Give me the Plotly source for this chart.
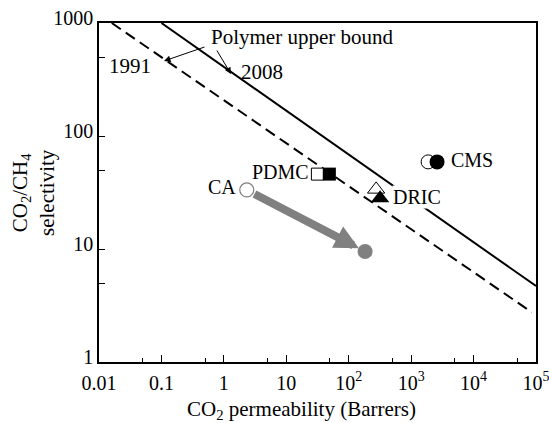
import numpy as np
import plotly.graph_objects as go

# ---- data ----
ub1991_x = [0.016, 86000]
ub1991_y = [1000, 2.75]
ub2008_x = [0.1, 100000]
ub2008_y = [1000, 4.7]

ca_x = [2.33]
ca_y = [33.3]
ca_end_x = [183]
ca_end_y = [9.5]

pdmc_open_x = [31.5]
pdmc_open_y = [46]
pdmc_fill_x = [49]
pdmc_fill_y = [46]

dric_open_x = [275]
dric_open_y = [33.7]
dric_fill_x = [318]
dric_fill_y = [28.1]

cms_open_x = [1870]
cms_open_y = [59]
cms_fill_x = [2600]
cms_fill_y = [59]

x_tickvals = [0.01, 0.1, 1, 10, 100, 1000, 10000, 100000]
x_ticktext = ["0.01", "0.1", "1", "10", "10<sup>2</sup>", "10<sup>3</sup>",
              "10<sup>4</sup>", "10<sup>5</sup>"]
x_minor = [0.05, 0.5, 5, 50, 500, 5000, 50000]
y_tickvals = [1, 10, 100, 1000]
y_ticktext = ["1", "10", "100", "1000"]
y_minor = [5, 50, 500]

FONT = "Liberation Serif"
GRAY = "#808080"

fig = go.Figure()

fig.add_trace(go.Scatter(x=ub1991_x, y=ub1991_y, mode="lines",
                         line=dict(color="black", width=2, dash="11px,6px")))
fig.add_trace(go.Scatter(x=ub2008_x, y=ub2008_y, mode="lines",
                         line=dict(color="black", width=2)))

fig.add_trace(go.Scatter(x=ca_x, y=ca_y, mode="markers",
                         marker=dict(symbol="circle", size=14, color="white",
                                     line=dict(color=GRAY, width=1.2))))
fig.add_trace(go.Scatter(x=ca_end_x, y=ca_end_y, mode="markers",
                         marker=dict(symbol="circle", size=15, color=GRAY,
                                     line=dict(width=0))))
fig.add_trace(go.Scatter(x=pdmc_open_x, y=pdmc_open_y, mode="markers",
                         marker=dict(symbol="square", size=12, color="white",
                                     line=dict(color="black", width=1))))
fig.add_trace(go.Scatter(x=pdmc_fill_x, y=pdmc_fill_y, mode="markers",
                         marker=dict(symbol="square", size=13, color="black",
                                     line=dict(width=0))))
fig.add_trace(go.Scatter(x=dric_open_x, y=dric_open_y, mode="markers",
                         marker=dict(symbol="triangle-up", size=15, color="white",
                                     line=dict(color="black", width=1))))
fig.add_trace(go.Scatter(x=dric_fill_x, y=dric_fill_y, mode="markers",
                         marker=dict(symbol="triangle-up", size=16, color="black",
                                     line=dict(width=0))))
fig.add_trace(go.Scatter(x=cms_open_x, y=cms_open_y, mode="markers",
                         marker=dict(symbol="circle", size=14, color="white",
                                     line=dict(color="black", width=1))))
fig.add_trace(go.Scatter(x=cms_fill_x, y=cms_fill_y, mode="markers",
                         marker=dict(symbol="circle", size=15, color="black",
                                     line=dict(width=0))))

ann = []
ann.append(dict(x=np.log10(ca_end_x[0]), y=np.log10(ca_end_y[0]),
                ax=np.log10(ca_x[0]), ay=np.log10(ca_y[0]),
                xref="x", yref="y", axref="x", ayref="y",
                showarrow=True, arrowhead=2, arrowwidth=8, arrowsize=0.6,
                arrowcolor=GRAY, standoff=7, startstandoff=7, text=""))

tf = dict(family=FONT, size=20, color="black")
tb = dict(family=FONT, size=21, color="black")
ann.append(dict(x=np.log10(ca_x[0]), y=np.log10(ca_y[0]), xref="x", yref="y",
                text="CA", showarrow=False, xanchor="right", xshift=-9, yshift=3, font=tf))
ann.append(dict(x=np.log10(pdmc_open_x[0]), y=np.log10(pdmc_open_y[0]), xref="x", yref="y",
                text="PDMC", showarrow=False, xanchor="right", xshift=-6, yshift=2, font=tf))
ann.append(dict(x=np.log10(dric_fill_x[0]), y=np.log10(dric_fill_y[0]), xref="x", yref="y",
                text="DRIC", showarrow=False, xanchor="left", xshift=12, yshift=1, font=tf,
                bgcolor="white", borderpad=0))
ann.append(dict(x=np.log10(cms_fill_x[0]), y=np.log10(cms_fill_y[0]), xref="x", yref="y",
                text="CMS", showarrow=False, xanchor="left", xshift=12, yshift=2, font=tf))

W, H = 549, 423
L, R, T, B = 99, 13, 23, 61
pw, ph = W - L - R, H - T - B
def px(xp):
    return (xp - L) / pw
def py(yp):
    return 1 - (yp - T) / ph

ann.append(dict(x=px(302), y=py(37), xref="paper", yref="paper", text="Polymer upper bound",
                showarrow=False, font=tb, xanchor="center", yanchor="middle"))
ann.append(dict(x=px(130), y=py(66), xref="paper", yref="paper", text="1991",
                showarrow=False, font=tb, xanchor="center", yanchor="middle"))
ann.append(dict(x=px(262), y=py(72), xref="paper", yref="paper", text="2008",
                showarrow=False, font=tb, xanchor="center", yanchor="middle"))
ann.append(dict(x=px(164), y=py(61), ax=206 - 164, ay=46.5 - 61, xref="paper", yref="paper",
                axref="pixel", ayref="pixel", text="", showarrow=True, arrowhead=2,
                arrowwidth=1, arrowsize=1.3, arrowcolor="black"))
ann.append(dict(x=px(231), y=py(74), ax=216 - 231, ay=49 - 74, xref="paper", yref="paper",
                axref="pixel", ayref="pixel", text="", showarrow=True, arrowhead=2,
                arrowwidth=1, arrowsize=1.3, arrowcolor="black"))

ann.append(dict(x=px(301), y=py(410), xref="paper", yref="paper",
                text="CO<sub>2</sub> permeability (Barrers)", showarrow=False,
                font=tb, xanchor="center", yanchor="middle"))
ann.append(dict(x=px(33), y=py(193), xref="paper", yref="paper",
                text="CO<sub>2</sub>/CH<sub>4</sub><br>selectivity", showarrow=False,
                font=tb, xanchor="center", yanchor="middle", textangle=-90))

fig.update_layout(
    width=W, height=H, margin=dict(l=L, r=R, t=T, b=B, autoexpand=False),
    paper_bgcolor="white", plot_bgcolor="white", showlegend=False,
    font=dict(family=FONT, size=20, color="black"),
    annotations=ann,
)
fig.update_xaxes(type="log", range=[-2, 5], tickmode="array", tickvals=x_tickvals,
                 ticktext=x_ticktext, ticks="inside", ticklen=7, tickwidth=1,
                 tickcolor="black", showline=True, linecolor="black", linewidth=1.5,
                 mirror=True, showgrid=False, zeroline=False, ticklabeloverflow="allow",
                 ticklabelstandoff=2,
                 tickfont=dict(family=FONT, size=20, color="black"),
                 minor=dict(tickvals=x_minor, ticks="inside", ticklen=4,
                            tickcolor="black", showgrid=False))
fig.update_yaxes(type="log", range=[0, 3], tickmode="array", tickvals=y_tickvals,
                 ticktext=y_ticktext, ticks="inside", ticklen=6, tickwidth=1,
                 tickcolor="black", showline=True, linecolor="black", linewidth=1.5,
                 mirror=True, showgrid=False, zeroline=False, ticklabelshift=-5,
                 tickfont=dict(family=FONT, size=20, color="black"),
                 minor=dict(tickvals=y_minor, ticks="inside", ticklen=6,
                            tickcolor="black", showgrid=False))

fig.write_html("out.html")
